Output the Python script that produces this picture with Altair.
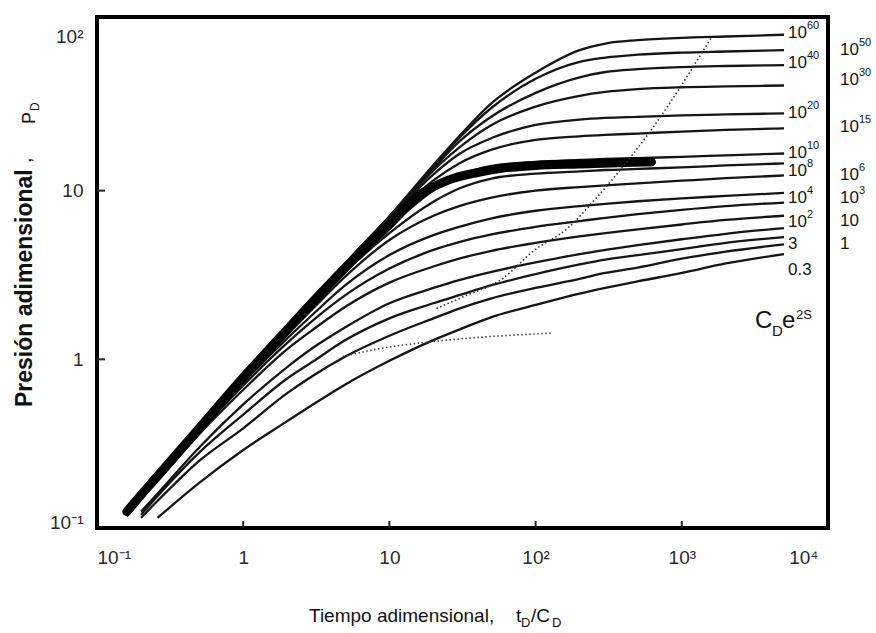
import altair as alt
import pandas as pd

# ---------------- data ----------------
T_GRID = [0.16, 0.2, 0.26, 0.5, 1, 2, 3, 5, 10, 20, 30, 50, 100, 200, 300, 500, 1000, 2000, 5000]

P_1E60 = [0.125, 0.157, 0.205, 0.39, 0.78, 1.5, 2.2, 3.7, 7.05, 14.2, 21.0, 33.0, 50.0, 68.0, 74.5, 78.0, 80.5, 82.0, 84.0]
P_1E50 = [0.125, 0.157, 0.205, 0.39, 0.78, 1.5, 2.2, 3.7, 7.0, 13.9, 20.5, 31.0, 46.0, 58.0, 61.5, 64.0, 65.8, 66.8, 68.0]
P_1E40 = [0.125, 0.157, 0.205, 0.39, 0.78, 1.5, 2.2, 3.7, 7.0, 13.6, 19.5, 27.5, 38.0, 47.0, 50.5, 52.5, 54.0, 54.8, 55.5]
P_1E30 = [0.125, 0.157, 0.205, 0.39, 0.78, 1.5, 2.2, 3.7, 6.9, 13.2, 18.0, 24.5, 31.5, 36.5, 38.5, 40.0, 41.0, 41.5, 42.0]
P_1E20 = [0.125, 0.157, 0.205, 0.39, 0.78, 1.5, 2.2, 3.65, 6.8, 12.5, 16.5, 20.5, 24.5, 26.4, 27.0, 27.4, 27.9, 28.3, 28.7]
P_1E15 = [0.125, 0.157, 0.205, 0.39, 0.78, 1.5, 2.2, 3.6, 6.6, 11.5, 14.5, 17.5, 20.0, 21.0, 21.4, 21.8, 22.4, 22.9, 23.4]
P_1E10 = [0.125, 0.157, 0.205, 0.39, 0.77, 1.47, 2.15, 3.45, 6.1, 10.0, 12.2, 14.0, 14.8, 15.2, 15.4, 15.6, 15.85, 16.2, 16.6]
P_1E8 = [0.125, 0.157, 0.205, 0.39, 0.77, 1.45, 2.1, 3.3, 5.6, 8.6, 10.3, 11.8, 12.6, 13.0, 13.25, 13.45, 13.75, 14.1, 14.5]
P_1E6 = [0.122, 0.155, 0.2, 0.385, 0.75, 1.4, 2.0, 3.1, 5.1, 7.1, 8.1, 9.1, 10.0, 10.5, 10.75, 11.05, 11.45, 11.85, 12.3]
P_1E4 = [0.12, 0.152, 0.197, 0.38, 0.73, 1.33, 1.85, 2.75, 4.15, 5.45, 6.1, 6.85, 7.6, 8.1, 8.35, 8.65, 9.0, 9.3, 9.7]
P_1E3 = [0.118, 0.15, 0.195, 0.37, 0.7, 1.25, 1.7, 2.4, 3.45, 4.45, 4.95, 5.5, 6.1, 6.6, 6.9, 7.25, 7.7, 8.1, 8.5]
P_1E2 = [0.117, 0.148, 0.19, 0.36, 0.66, 1.15, 1.5, 2.05, 2.85, 3.55, 3.95, 4.4, 4.9, 5.35, 5.6, 5.9, 6.3, 6.7, 7.1]
P_10 = [None, 0.125, 0.16, 0.3, 0.54, 0.9, 1.17, 1.55, 2.15, 2.65, 2.95, 3.3, 3.75, 4.2, 4.45, 4.75, 5.15, 5.55, 6.0]
P_3 = [None, 0.12, 0.155, 0.28, 0.47, 0.77, 0.97, 1.3, 1.75, 2.15, 2.4, 2.75, 3.2, 3.65, 3.9, 4.15, 4.5, 4.9, 5.3]
P_1 = [None, 0.115, 0.145, 0.25, 0.39, 0.63, 0.8, 1.04, 1.38, 1.75, 2.0, 2.3, 2.65, 3.0, 3.25, 3.5, 3.95, 4.35, 4.8]
P_03 = [None, None, 0.115, 0.185, 0.29, 0.43, 0.54, 0.71, 0.98, 1.3, 1.5, 1.78, 2.1, 2.45, 2.65, 2.9, 3.25, 3.7, 4.2]

CURVE_KEYS = ["1e60", "1e50", "1e40", "1e30", "1e20", "1e15", "1e10", "1e8",
              "1e6", "1e4", "1e3", "1e2", "10", "3", "1", "0.3"]
CURVE_VALUES = [P_1E60, P_1E50, P_1E40, P_1E30, P_1E20, P_1E15, P_1E10, P_1E8,
                P_1E6, P_1E4, P_1E3, P_1E2, P_10, P_3, P_1, P_03]

# field data (thick curve)
DATA_T = [0.16, 0.2, 0.3, 0.5, 1, 2, 3, 5, 10, 16, 25, 40, 60, 100, 200, 400, 620]
DATA_P = [0.125, 0.157, 0.235, 0.39, 0.78, 1.5, 2.2, 3.5, 6.3, 9.4, 11.5, 12.8, 13.6, 14.1, 14.4, 14.7, 14.8]

# dotted lines
STEEP_T = [21, 32, 60, 97, 166, 250, 342, 620, 1580]
STEEP_P = [2.0, 2.35, 3.03, 4.4, 6.0, 8.7, 11.9, 23.0, 80.0]
FLAT_T = [4.8, 8.7, 21, 127]
FLAT_P = [1.04, 1.16, 1.28, 1.43]

# curve labels (C_D e^2S): base text + exponent
INNER_BASE = ["10", "10", "10", "10", "10", "10", "10", "3", "0.3"]
INNER_EXP = ["60", "40", "20", "10", "8", "4", "2", "", ""]
INNER_LABEL_P = [86, 57.4, 28.9, 16.7, 13.1, 9.0, 6.5, 4.8, 3.4]
OUTER_BASE = ["10", "10", "10", "10", "10", "10", "\u20071"]
OUTER_EXP = ["50", "30", "15", "6", "3", "", ""]
OUTER_LABEL_P = [68, 45.3, 24.0, 12.3, 9.0, 6.6, 4.8]

X_TICKS = [0.1, 1, 10, 100, 1000, 10000]
Y_TICKS = [0.1, 1, 10, 100]
X_INNER_TICKS = [1, 10, 100, 1000]
Y_INNER_TICKS = [1, 10]

# ---------------- tables ----------------
rows = []
for key, vals in zip(CURVE_KEYS, CURVE_VALUES):
    for t, p in zip(T_GRID, vals):
        if p is not None:
            rows.append({"t": t, "p": p, "curve": key})
curves_df = pd.DataFrame(rows)
data_df = pd.DataFrame({"t": DATA_T, "p": DATA_P})
steep_df = pd.DataFrame({"t": STEEP_T, "p": STEEP_P})
flat_df = pd.DataFrame({"t": FLAT_T, "p": FLAT_P})
inner_df = pd.DataFrame({"t": [5000] * len(INNER_BASE), "p": INNER_LABEL_P,
                         "base": INNER_BASE, "exp": INNER_EXP})
outer_df = pd.DataFrame({"t": [10000] * len(OUTER_BASE), "p": OUTER_LABEL_P,
                         "base": OUTER_BASE, "exp": OUTER_EXP})
xt_df = pd.DataFrame({"t": X_INNER_TICKS})
yt_df = pd.DataFrame({"p": Y_INNER_TICKS})

W, H = 731, 511
FONT = "Liberation Sans, Arial, sans-serif"
INK = "#151515"

xscale = alt.Scale(type="log", domain=[0.1, 10000], nice=False)
yscale = alt.Scale(type="log", domain=[0.1, 107], nice=False)

x_label_expr = ("datum.value < 0.5 ? '10⁻¹' : datum.value < 5 ? '1' : datum.value < 50 ? '10' : "
                "datum.value < 500 ? '10²' : datum.value < 5000 ? '10³' : '10⁴'")
y_label_expr = ("datum.value < 0.5 ? '10⁻¹' : datum.value < 5 ? '1' : datum.value < 50 ? '10' : '10²'")

X = alt.X("t:Q", scale=xscale,
          axis=alt.Axis(values=X_TICKS, labelExpr=x_label_expr, ticks=False, domain=False, grid=False,
                        labelPadding=20, labelFontSize=19, labelFont=FONT, labelColor="#2a2a2a",
                        labelOffset=alt.condition("datum.value >= 10000", alt.value(-10), alt.value(0)),
                        title=None))
Y = alt.Y("p:Q", scale=yscale,
          axis=alt.Axis(values=Y_TICKS, labelExpr=y_label_expr, ticks=False, domain=False, grid=False,
                        labelPadding=14, labelFontSize=19, labelFont=FONT, labelColor="#2a2a2a",
                        labelOffset={"condition": [{"test": "datum.value >= 100", "value": 15},
                                                   {"test": "datum.value <= 0.1", "value": -6}],
                                     "value": 0},
                        title=None))

XS = alt.X("t:Q", scale=xscale)
YS = alt.Y("p:Q", scale=yscale)

curves = alt.Chart(curves_df).mark_line(strokeWidth=2.3, color=INK, interpolate="monotone").encode(
    x=X, y=Y, detail="curve:N", order="t:Q")

thick = alt.Chart(data_df).mark_line(strokeWidth=9, color="#000000", interpolate="monotone",
                                     strokeCap="round", strokeJoin="round").encode(x=XS, y=YS)

steep = alt.Chart(steep_df).mark_line(strokeWidth=1.6, color="#333333", strokeDash=[1.5, 2.5],
                                      interpolate="monotone").encode(x=XS, y=YS)
flat = alt.Chart(flat_df).mark_line(strokeWidth=1.6, color="#444444", strokeDash=[1.5, 2.5],
                                    interpolate="monotone").encode(x=XS, y=YS)

LAB_SIZE = 17
EXP_SIZE = 11
BASE_W = 19  # width of "10" at LAB_SIZE

inner_base = alt.Chart(inner_df).mark_text(align="left", baseline="middle", dx=4, fontSize=LAB_SIZE,
                                           font=FONT, color=INK).encode(x=XS, y=YS, text="base:N")
inner_exp = alt.Chart(inner_df).mark_text(align="left", baseline="middle", dx=4 + BASE_W, dy=-7,
                                          fontSize=EXP_SIZE, font=FONT, color=INK).encode(x=XS, y=YS, text="exp:N")
outer_base = alt.Chart(outer_df).mark_text(align="left", baseline="middle", dx=12, fontSize=LAB_SIZE,
                                           font=FONT, color=INK).encode(x=XS, y=YS, text="base:N")
outer_exp = alt.Chart(outer_df).mark_text(align="left", baseline="middle", dx=12 + BASE_W, dy=-7,
                                          fontSize=EXP_SIZE, font=FONT, color=INK).encode(x=XS, y=YS, text="exp:N")

xticks = alt.Chart(xt_df).mark_rule(strokeWidth=2, color="#222").encode(
    x=XS, y=alt.value(H), y2=alt.value(H - 7))
yticks = alt.Chart(yt_df).mark_rule(strokeWidth=2, color="#222").encode(
    y=YS, x=alt.value(0), x2=alt.value(8))


def txt(s, x, y, size, weight="normal", angle=0, align="left"):
    return alt.Chart(pd.DataFrame({"s": [s]})).mark_text(
        align=align, baseline="alphabetic", fontSize=size, font=FONT, fontWeight=weight,
        angle=angle, color="#111111").encode(x=alt.value(x), y=alt.value(y), text="s:N")


annotations = [
    # C_D e^2S
    txt("C", 658, 311, 24),
    txt("D", 675, 319, 15),
    txt("e", 685, 311, 24),
    txt("2S", 699, 302, 13),
    # x title
    txt("Tiempo adimensional,", 212, 605, 19),
    txt("t", 419, 605, 19),
    txt("D", 424, 610, 13),
    txt("/C", 434, 605, 19),
    txt("D", 455, 610, 13),
    # y title (rotated)
    txt("Presión adimensional", -65, 390, 23, weight="bold", angle=270),
    txt(",", -66, 146, 20, angle=270),
    txt("P", -62, 107, 18, angle=270),
    txt("D", -58, 94, 12, angle=270),
]

chart = alt.layer(curves, thick, steep, flat, inner_base, inner_exp, outer_base, outer_exp,
                  xticks, yticks, *annotations).properties(
    width=W, height=H,
    autosize=alt.AutoSizeParams(type="none"),
    padding={"left": 97, "top": 17, "right": 876 - 97 - W, "bottom": 633 - 17 - H},
    background="white",
).configure_view(stroke="#000000", strokeWidth=4)

chart.save("out.html", embed_options={"renderer": "svg", "actions": False})
